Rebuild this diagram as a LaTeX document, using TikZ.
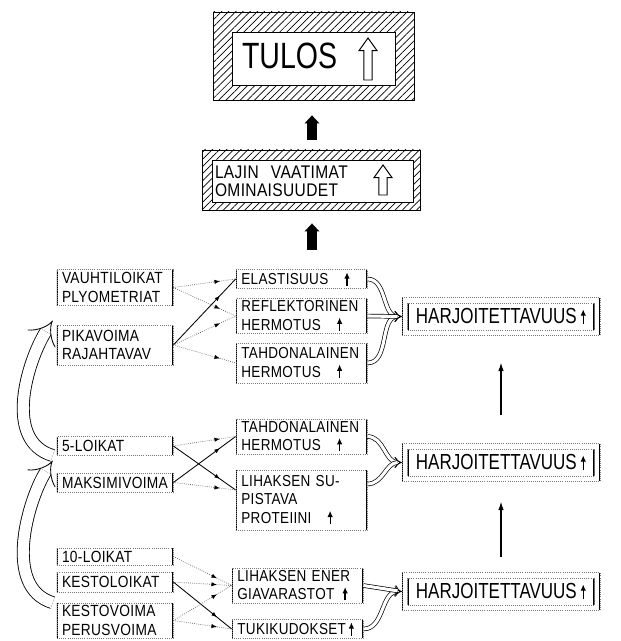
\documentclass[tikz,border=0pt]{standalone}
\usepackage{fontspec}
\setmainfont{Liberation Sans}
\newfontfamily\labelfont[FakeStretch=0.85,LetterSpace=2]{Liberation Sans}
\newfontfamily\narrowfont[FakeStretch=0.78]{Liberation Sans}
\usetikzlibrary{arrows.meta,calc,positioning,fit,patterns.meta,decorations.markings}
\definecolor{FrameGrey}{RGB}{120,120,120}
\definecolor{LinkGrey}{RGB}{90,90,90}
\newcommand{\srctxt}{\labelfont\fontsize{11.5}{13}\selectfont}
\newcommand{\midtxt}{\labelfont\fontsize{11.3}{13.2}\selectfont}
\newcommand{\upmark}[1][9pt]{%
  \tikz[baseline=0pt]\draw[black,solid,line width=0.9pt,-{Latex[length=4.5pt,width=4pt]}] (0pt,-0.5pt)--(0pt,#1);}
\newcommand{\hollowup}[4]{% x, foot y, half width, height
  \draw[line width=0.7pt,fill=white] (#1-0.47*#3,#2)--(#1+0.47*#3,#2)--(#1+0.47*#3,#2-#4+1.4*#3)
    --(#1+#3,#2-#4+1.4*#3)--(#1,#2-#4)--(#1-#3,#2-#4+1.4*#3)--(#1-0.47*#3,#2-#4+1.4*#3)--cycle;}
\tikzset{
  cell/.style={draw=FrameGrey,densely dotted,line width=0.5pt,
    path picture={\draw[black,solid,line width=1.5pt]
      (path picture bounding box.north west)--(path picture bounding box.south west)
      (path picture bounding box.north east)--(path picture bounding box.south east);}},
  src/.style={cell,font=\srctxt,text width=26.5mm,inner xsep=1.25mm,inner ysep=0.5mm,align=left},
  mid/.style={cell,font=\midtxt,text width=30.05mm,inner xsep=1.35mm,inner ysep=0.5mm,align=left},
  harj/.style={cell,font=\narrowfont\fontsize{15.5}{17}\selectfont,minimum width=46.75mm,minimum height=6.75mm},
  hatchframe/.style={draw,line width=0.6pt,pattern={Lines[angle=45,distance=3.6pt,line width=0.5pt]}},
  feed/.style={draw=LinkGrey,densely dotted,line width=0.5pt,postaction={decorate},
    decoration={markings,mark=at position 0.75 with {\arrow[black,solid]{Latex[length=4pt,width=3pt]}}}},
  feedbold/.style={feed,draw=black,solid,line width=0.6pt},
  merge/.style={double=white,double distance=2.2pt,line width=0.5pt,-{Implies[scale=1.5]}},
  lift/.style={double=white,double distance=8pt,line width=0.6pt,-{Implies[scale=1.8]}},
  rise/.style={line width=0.8pt,-{Latex[length=6pt,width=4pt]}},
  bigup/.style={line width=2.5mm,-{Triangle[length=2mm,width=3.6mm]}}
}

\begin{document}
\begin{tikzpicture}[x=0.25mm,y=-0.25mm]
  \useasboundingbox (0,0) rectangle (620,641);
  % top result
  \node[hatchframe,minimum width=50.25mm,minimum height=22mm] (tulosframe) at (313.5,56) {};
  \node[draw,fill=white,line width=0.6pt,minimum width=40.75mm,minimum height=13.25mm,
    text width=35.75mm,inner xsep=2.5mm,align=left,font=\narrowfont\fontsize{26}{28}\selectfont]
    (tulos) at (313.5,58.5) {\raisebox{1.2mm}{TULOS}};
  \hollowup{368}{80}{9}{42}
  \node[hatchframe,minimum width=54.5mm,minimum height=15mm] (lajinframe) at (311,180) {};
  \node[draw,fill=white,line width=0.6pt,minimum width=50.25mm,minimum height=10.5mm,
    text width=48.75mm,inner xsep=0.75mm,inner ysep=0.3mm,align=left,
    font=\labelfont\fontsize{13}{13}\selectfont] (lajin) at (312.5,181) {LAJIN\ \ VAATIMAT\\OMINAISUUDET};
  \hollowup{383}{195}{9}{30}
  \coordinate (up1) at (312,140);
  \coordinate (up2) at (312,250);
  \draw[bigup,shorten >=3.75mm] (up1)--(up1 |- tulosframe.south);
  \draw[bigup,shorten >=3.25mm] (up2)--(up2 |- lajinframe.south);

  % training forms
  \node[src,minimum height=9mm] (vauhti) at (115,287.5) {VAUHTILOIKAT\\PLYOMETRIAT};
  \node[src,minimum height=10mm] (pika) at (115,345) {PIKAVOIMA\\RAJAHTAVAV};
  \node[src,minimum height=4.6mm] (loikat5) at (115,446) {5-LOIKAT};
  \node[src,minimum height=4.8mm] (maksimi) at (115,482.5) {MAKSIMIVOIMA};
  \node[src,minimum height=4.3mm] (loikat10) at (115,556.5) {10-LOIKAT};
  \node[src,minimum height=5mm] (kestoloikat) at (115,582) {KESTOLOIKAT};
  \node[src,minimum height=8.75mm] (kestovoima) at (115,620.5) {KESTOVOIMA\\PERUSVOIMA};

  % properties
  \node[mid,minimum height=4.5mm] (elast) at (301.5,279) {ELASTISUUS\quad\upmark};
  \node[mid,minimum height=8mm] (reflek) at (301.5,316) {REFLEKTORINEN\\HERMOTUS\quad\upmark};
  \node[mid,minimum height=10mm] (tahdon1) at (301.5,363) {TAHDONALAINEN\\HERMOTUS\quad\upmark};
  \node[mid,minimum height=8.25mm] (tahdon2) at (301.5,436.5) {TAHDONALAINEN\\HERMOTUS\quad\upmark};
  \node[mid,minimum height=15mm] (supist) at (301.5,500) {LIHAKSEN SU-\\PISTAVA\\PROTEIINI\quad\upmark};
  \node[mid,minimum height=8.75mm] (energ) at (297.5,585.5) {LIHAKSEN ENER\\GIAVARASTOT\enspace\upmark};
  \node[mid,minimum height=4.5mm] (tuki) at (297.5,629) {TUKIKUDOKSET\,\upmark};

  % trainability
  \foreach \n/\y in {1/316.5,2/462.5,3/591.5}{
    \node[harj] (harj\n) at (501,\y) {HARJOITETTAVUUS\,\upmark[10pt]};
    \node[cell,fit=(harj\n),inner sep=1.25mm] (harj\n o) {};
  }

  \draw[feed] (vauhti.east)--(elast.west);
  \draw[feed] (vauhti.east)--(reflek.west);
  \draw[feedbold] (pika.east)--(elast.west);
  \draw[feed] (pika.east)--(reflek.west);
  \draw[feed] (pika.east)--(tahdon1.west);
  \draw[feed] (loikat5.east)--(tahdon2.west);
  \draw[feedbold] (loikat5.east)--([yshift=2.5mm]supist.west);
  \draw[feedbold] (maksimi.east)--(tahdon2.west);
  \draw[feed] (maksimi.east)--([yshift=2.5mm]supist.west);
  \draw[feed] (loikat10.east)--(energ.west);
  \draw[feed] (kestoloikat.east)--(energ.west);
  \draw[feedbold] (kestoloikat.east)--(tuki.west);
  \draw[feed] (kestovoima.east)--(energ.west);
  \draw[feed] (kestovoima.east)--(tuki.west);

  \draw[merge] (elast.east) to[out=0,in=180] (harj1o.west);
  \draw[merge] (tahdon1.east) to[out=0,in=180] (harj1o.west);
  \draw[merge] (reflek.east)--(harj1o.west);
  \draw[merge] (tahdon2.east) to[out=0,in=180] (harj2o.west);
  \draw[merge] ([yshift=4mm]supist.east) to[out=0,in=180] (harj2o.west);
  \draw[merge] (tuki.east) to[out=0,in=180] (harj3o.west);
  \draw[merge] (energ.east)--(harj3o.west);

  \draw[rise,shorten <=7mm,shorten >=6.75mm] (harj2o.north)--(harj1o.south);
  \draw[rise,shorten <=3.75mm,shorten >=5mm] (harj3o.north)--(harj2o.south);

  \draw[lift] ([xshift=-1mm]loikat5.south west) .. controls +(-50,-15) and +(-25,40) .. ([xshift=-1mm,yshift=1mm]pika.north west);
  \draw[lift] ([xshift=-1mm]kestovoima.north west) .. controls +(-50,-15) and +(-25,40) .. ([xshift=-1mm,yshift=3mm]maksimi.north west);
\end{tikzpicture}
\end{document}
